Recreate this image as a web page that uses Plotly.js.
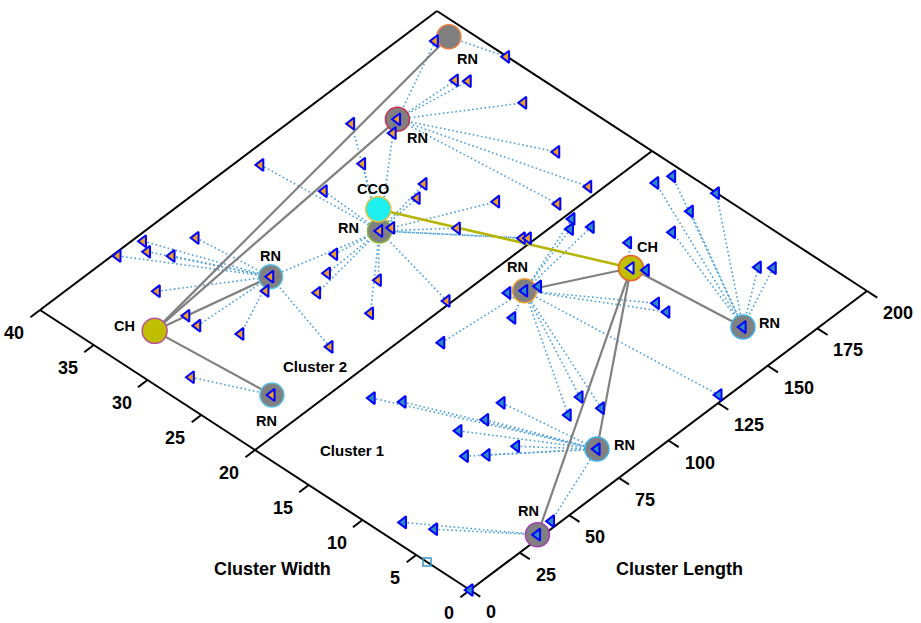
<!DOCTYPE html>
<html><head><meta charset="utf-8">
<script src="https://cdn.plot.ly/plotly-3.0.1.min.js"></script>
<style>html,body{margin:0;padding:0;background:#fff}#chart{width:921px;height:623px}</style>
</head><body><div id="chart"></div>
<script>
// ---------------- data (Cluster Length = x, Cluster Width = y) ----------------
const lengthTicks = [0, 25, 50, 75, 100, 125, 150, 175, 200];
const widthTicks = [0, 5, 10, 15, 20, 25, 30, 35, 40];
const lengthMax = 200;
const widthMax = 40;
const clusterBoundary = 20;
const clusterNames = ['Cluster 1', 'Cluster 2'];
const clusterLabelX = [22.3, 44.0];
const clusterLabelY = [15.1, 22.5];

// cluster heads
const headNames = ['CH', 'CH'];
const headX = [19.3, 153.1];
const headY = [32.9, 13.3];
const headHasSensor = [0, 1];

// cluster coordinator
const ccoNames = ['CCO'];
const ccoX = [115.2];
const ccoY = [29.8];
const ccoLinkHead = [1];

// relay nodes
const relayNames = ['RN', 'RN', 'RN', 'RN', 'RN', 'RN', 'RN', 'RN', 'RN'];
const relayX = [193.5, 151.9, 107.7, 65.8, 23.7, 120.1, 158.1, 80.2, 35.6];
const relayY = [37.7, 34.8, 28.3, 30.7, 22.8, 17.1, 3.8, 3.0, 0.3];
const relayHead = [0, 0, -1, 0, 0, 1, 1, 1, 1];
const relayHasSensor = [0, 1, 1, 1, 1, 1, 1, 1, 1];
const relayLinkFrom = [3];
const relayLinkTo = [2];

// sensor nodes, cluster 2
const c2X = [188.8, 199.8, 179.4, 182.1, 187.3, 177.4, 172.4, 159.0, 145.9, 139.6, 127.8, 103.6, 109.0, 134.9, 128.2, 145.5, 111.6, 126.8, 138.4, 139.8, 88.8, 80.3, 71.0, 89.7, 76.0, 98.3, 54.5, 59.6, 38.3, 48.8, 46.0, 37.6, 50.2, 62.3, 34.1, 32.2, 31.2, 11.2];
const c2Y = [38.1, 33.5, 34.5, 33.8, 29.6, 24.7, 20.8, 21.2, 34.1, 36.8, 33.6, 38.6, 33.7, 29.2, 28.6, 24.4, 27.9, 24.6, 20.7, 20.4, 29.0, 28.1, 27.3, 25.1, 23.3, 20.3, 23.1, 30.0, 28.4, 39.4, 38.5, 39.7, 37.0, 37.0, 35.4, 32.3, 31.1, 28.0];
const c2Parent = ['R1', 'R0', 'R1', 'R1', 'R1', 'R1', 'R1', 'R1', 'R2', 'R2', 'R2', 'R2', 'R2', 'R2', 'R2', 'R2', 'R2', 'R2', 'R2', 'R2', 'R2', 'R2', 'R2', 'R2', 'R2', 'R2', 'R3', 'R3', 'R3', 'R3', 'R3', 'R3', 'R3', 'R3', 'R3', 'R3', 'R3', 'R4'];

// sensor nodes, cluster 1
const c1X = [156.9, 152.9, 158.5, 115.4, 124.9, 107.6, 82.1, 161.6, 155.9, 189.4, 195.7, 199.9, 187.3, 175.6, 183.1, 186.3, 146.4, 145.7, 128.1, 94.9, 95.9, 85.7, 46.0, 51.8, 74.6, 64.7, 54.5, 62.4, 52.4, 46.9, 43.7, 8.7, 13.5, 0];
const c1Y = [19.5, 18.9, 18.0, 17.8, 16.7, 15.9, 17.8, 15.1, 12.4, 17.7, 17.3, 14.0, 14.1, 13.6, 7.0, 6.2, 9.7, 8.6, 0.5, 7.3, 5.5, 6.7, 17.6, 15.8, 10.8, 10.5, 11.1, 7.2, 8.1, 9.1, 0.5, 7.8, 5.8, 0];
const c1Parent = ['R5', 'R5', 'R5', 'R5', 'R5', 'R5', 'R5', 'H1', 'H1', 'R6', 'R6', 'R6', 'R6', 'R6', 'R6', 'R6', 'R5', 'R5', 'R5', 'R5', 'R5', 'R5', 'R7', 'R7', 'R7', 'R7', 'R7', 'R7', 'R7', 'R7', 'R7', 'R8', 'R8', ''];

// sink
const sinkX = [0];
const sinkY = [4];

// ---------------- view / style ----------------
const VIEW = { origin: [470, 590], lengthEnd: [867, 291], widthEnd: [40, 310] };
function P(x, y) {
  const u = x / lengthMax, v = y / widthMax;
  return [
    VIEW.origin[0] + u * (VIEW.lengthEnd[0] - VIEW.origin[0]) + v * (VIEW.widthEnd[0] - VIEW.origin[0]),
    VIEW.origin[1] + u * (VIEW.lengthEnd[1] - VIEW.origin[1]) + v * (VIEW.widthEnd[1] - VIEW.origin[1])
  ];
}
const FONT = 'Liberation Sans, Arial, sans-serif';
const relayEdge = ['#f07a3c', '#c8324e', '#8ab43c', '#5cc0e6', '#5cc0e6', '#f0a030', '#3fb0e8', '#3fb0e8', '#a040b0'];
const headEdge = ['#b8509a', '#e8602a'];
const relayLabelShift = [[19, -22], [20, -19], [-31, 3], [0, 21], [-5, -26], [-7, 24], [27, 4], [28, 4], [-9, 24]];
const headLabelShift = [[-30, 5], [17, 21]];
const ccoLabelShift = [[-5, 20]];

function node(ref) {
  const k = ref[0], i = +ref.slice(1);
  if (k === 'R') return [relayX[i], relayY[i]];
  return [headX[i], headY[i]];
}
function segs(pairs) {
  const xs = [], ys = [];
  pairs.forEach(([a, b]) => {
    const p = P(a[0], a[1]), q = P(b[0], b[1]);
    xs.push(p[0], q[0], null); ys.push(p[1], q[1], null);
  });
  return { x: xs, y: ys };
}
function pts(X, Y) {
  const xs = [], ys = [];
  X.forEach((x, i) => { const p = P(x, Y[i]); xs.push(p[0]); ys.push(p[1]); });
  return { x: xs, y: ys };
}

// frame
const framePairs = [
  [[0, 0], [lengthMax, 0]], [[0, 0], [0, widthMax]],
  [[0, widthMax], [lengthMax, widthMax]], [[lengthMax, 0], [lengthMax, widthMax]],
  [[0, clusterBoundary], [lengthMax, clusterBoundary]]
];
lengthTicks.forEach(t => framePairs.push([[t, 0], [t, -0.95]]));
widthTicks.forEach(w => framePairs.push([[0, w], [-4.8, w]]));

// dotted links
const dotPairs = [];
c2X.forEach((x, i) => { if (c2Parent[i]) dotPairs.push([[x, c2Y[i]], node(c2Parent[i])]); });
c1X.forEach((x, i) => { if (c1Parent[i]) dotPairs.push([[x, c1Y[i]], node(c1Parent[i])]); });
relayLinkFrom.forEach((f, i) => dotPairs.push([[relayX[f], relayY[f]], [relayX[relayLinkTo[i]], relayY[relayLinkTo[i]]]]));

// solid links
const grayPairs = [];
relayX.forEach((x, i) => { if (relayHead[i] >= 0) grayPairs.push([[x, relayY[i]], [headX[relayHead[i]], headY[relayHead[i]]]]); });
const olivePairs = ccoX.map((x, i) => [[x, ccoY[i]], [headX[ccoLinkHead[i]], headY[ccoLinkHead[i]]]]);

// triangles
const orangeX = c2X.slice(), orangeY = c2Y.slice(), blueX = c1X.slice(), blueY = c1Y.slice();
relayX.forEach((x, i) => {
  if (!relayHasSensor[i]) return;
  if (relayY[i] >= clusterBoundary) { orangeX.push(x); orangeY.push(relayY[i]); }
  else { blueX.push(x); blueY.push(relayY[i]); }
});
const headSensX = headX.filter((_, i) => headHasSensor[i]);
const headSensY = headY.filter((_, i) => headHasSensor[i]);

const line = (d, color, width, dash) => Object.assign({ type: 'scatter', mode: 'lines', hoverinfo: 'skip', showlegend: false, line: { color, width, dash: dash || 'solid' } }, d);
const mk = (d, m) => Object.assign({ type: 'scatter', mode: 'markers', hoverinfo: 'skip', showlegend: false, marker: m, cliponaxis: false }, d);

const tri = (fill) => ({ symbol: 'triangle-left', size: 10.5, color: fill, line: { color: '#0000ff', width: 2 } });

const traces = [
  line(segs(framePairs), '#000000', 2),
  line(segs(dotPairs), '#4a9fdb', 1.6, '1.6px,2.6px'),
  line(segs(grayPairs), '#808080', 2.2),
  line(segs(olivePairs), '#b5b500', 2.5),
  mk(pts(relayX, relayY), { symbol: 'circle', size: 24, color: '#808080', line: { color: relayEdge, width: 1.5 } }),
  mk(pts(headX, headY), { symbol: 'circle', size: 25, color: '#bfbf00', line: { color: headEdge, width: 1.5 } }),
  mk(pts(ccoX, ccoY), { symbol: 'circle', size: 25, color: '#1ef0f0', line: { color: '#e0c040', width: 1.5 } }),
  mk(pts(orangeX, orangeY), tri('#f0a020')),
  mk(pts(blueX, blueY), tri('#2b8cbe')),
  mk(pts(headSensX, headSensY), tri('#d4ecf7')),
  mk(pts(sinkX, sinkY), { symbol: 'square-open', size: 8, color: '#3399cc', line: { width: 1.5 } })
];

// annotations
const ann = [];
function label(x, y, text, size, shift, anchor) {
  const p = P(x, y);
  ann.push({ x: p[0], y: p[1], xref: 'x', yref: 'y', text: '<b>' + text + '</b>', showarrow: false,
    font: { family: FONT, size, color: '#000' }, xshift: shift[0], yshift: shift[1], borderpad: 0,
    xanchor: anchor || 'center', yanchor: 'middle' });
}
relayX.forEach((x, i) => label(x, relayY[i], relayNames[i], 14.5, relayLabelShift[i]));
headX.forEach((x, i) => label(x, headY[i], headNames[i], 14.5, headLabelShift[i]));
ccoX.forEach((x, i) => label(x, ccoY[i], ccoNames[i], 14.5, ccoLabelShift[i]));
clusterNames.forEach((n, i) => label(clusterLabelX[i], clusterLabelY[i], n, 15, [0, 0]));
lengthTicks.forEach(t => label(t, 0, String(t), 18, [15, -22], 'left'));
widthTicks.forEach(w => label(0, w, String(w), 18, [-15, -23], 'right'));
ann.push({ x: 272, y: 569, xref: 'x', yref: 'y', text: '<b>Cluster Width</b>', showarrow: false, font: { family: FONT, size: 18, color: '#000' } });
ann.push({ x: 679, y: 569, xref: 'x', yref: 'y', text: '<b>Cluster Length</b>', showarrow: false, font: { family: FONT, size: 18, color: '#000' } });

const layout = {
  width: 921, height: 623, margin: { l: 0, r: 0, t: 0, b: 0 },
  paper_bgcolor: '#ffffff', plot_bgcolor: '#ffffff', showlegend: false,
  xaxis: { range: [0, 921], visible: false, fixedrange: true },
  yaxis: { range: [623, 0], visible: false, fixedrange: true },
  annotations: ann, hovermode: false
};
Plotly.newPlot('chart', traces, layout, { staticPlot: true, displayModeBar: false });
</script></body></html>
